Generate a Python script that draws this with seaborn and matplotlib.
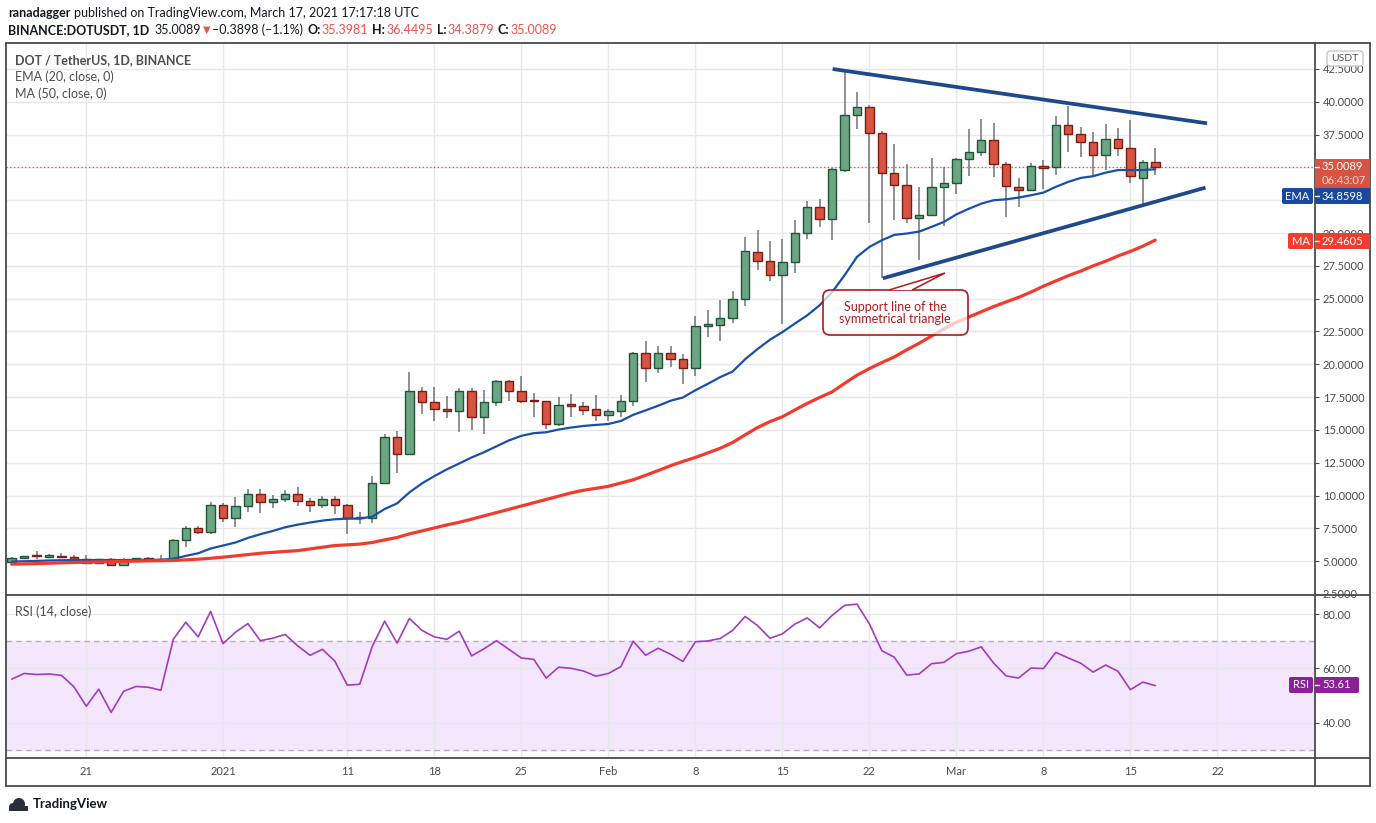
import matplotlib
matplotlib.use('Agg')
import matplotlib.pyplot as plt
from matplotlib.patches import Rectangle, FancyBboxPatch, Polygon, Circle
from matplotlib.transforms import IdentityTransform
import seaborn as sns
import pandas as pd
import numpy as np

W, H = 1376, 823

# ---- data ----
dates = pd.date_range('2020-12-15', '2021-03-17', freq='D')

opens = [4.95, 5.22, 5.40, 5.35, 5.38, 5.30, 5.15, 4.85, 5.15, 4.70, 5.08, 5.23, 5.20, 5.10, 6.60, 7.50, 7.20,
         9.25, 8.27, 9.18, 10.15, 9.50, 9.70, 10.10, 9.60, 9.25, 9.70, 9.25, 8.27, 8.27, 10.92, 14.49, 13.13,
         17.95, 17.12, 16.59, 16.41, 17.95, 15.98, 17.12, 18.71, 17.95, 17.20, 17.17, 15.45, 16.89, 16.82, 16.60,
         16.14, 16.44, 17.20, 20.83, 19.70, 20.83, 20.38, 19.70, 22.95, 23.00, 23.56, 25.00, 28.59, 27.90,
         26.83, 27.82, 30.04, 31.95, 31.10, 34.77, 38.97, 39.58, 37.60, 34.54, 33.63, 31.18, 31.41, 33.47,
         33.78, 35.61, 36.15, 37.07, 35.23, 33.54, 33.31, 35.08, 35.00, 38.22, 37.53, 36.92, 35.92, 37.15,
         36.46, 34.23, 35.3981]
highs = [5.30, 5.42, 5.78, 5.55, 5.62, 5.45, 5.48, 5.20, 5.22, 5.25, 5.25, 5.28, 5.48, 6.70, 7.70, 7.68, 9.48,
         9.40, 9.90, 10.50, 10.50, 10.03, 10.40, 10.68, 9.78, 9.93, 9.98, 9.33, 8.73, 11.47, 14.67, 14.95, 19.38,
         18.25, 18.25, 17.60, 18.23, 18.18, 18.05, 18.81, 18.81, 19.10, 17.80, 17.20, 17.50, 17.76, 17.12, 17.63,
         16.59, 17.68, 20.90, 21.74, 21.36, 21.36, 20.78, 23.66, 24.10, 24.87, 25.58, 29.73, 30.22, 29.38,
         29.55, 31.03, 32.43, 32.57, 34.95, 42.37, 40.75, 39.76, 37.80, 36.78, 35.23, 33.53, 35.69, 35.05,
         35.70, 37.94, 38.71, 38.40, 35.40, 34.17, 35.33, 35.56, 38.94, 39.65, 38.09, 37.73, 38.30, 38.00,
         38.63, 35.56, 36.4495]
lows = [4.90, 5.15, 5.18, 5.22, 5.25, 5.02, 4.80, 4.78, 4.60, 4.60, 5.00, 5.05, 4.98, 5.00, 6.10, 7.05, 7.10,
        8.02, 7.60, 8.77, 8.70, 9.05, 9.48, 9.20, 8.77, 9.03, 8.57, 7.10, 7.86, 7.94, 10.85, 11.73, 13.10,
        16.22, 15.66, 15.90, 14.82, 14.97, 14.65, 16.80, 17.20, 17.05, 15.98, 15.04, 15.27, 15.99, 16.12, 15.68,
        15.66, 15.98, 16.79, 18.67, 19.33, 19.80, 18.47, 19.14, 22.11, 21.75, 23.17, 24.45, 27.20, 26.35,
        23.09, 26.92, 29.53, 30.47, 29.45, 34.67, 37.95, 30.78, 26.60, 30.98, 30.78, 27.92, 31.36, 30.52,
        32.95, 34.33, 35.90, 34.28, 31.20, 32.00, 33.31, 33.34, 34.40, 36.20, 35.82, 34.33, 34.79, 35.90,
        33.82, 32.24, 34.3879]
closes = [5.22, 5.38, 5.37, 5.38, 5.32, 5.13, 4.85, 5.15, 4.70, 5.08, 5.23, 5.15, 5.10, 6.60, 7.50, 7.20, 9.25,
          8.27, 9.18, 10.10, 9.50, 9.70, 10.10, 9.60, 9.25, 9.70, 9.25, 8.27, 8.30, 10.92, 14.49, 13.13, 17.99,
          17.10, 16.59, 16.41, 17.95, 15.98, 17.12, 18.71, 17.95, 17.20, 17.17, 15.45, 16.89, 16.85, 16.52, 16.14,
          16.44, 17.20, 20.83, 19.70, 20.83, 20.38, 19.70, 22.95, 23.00, 23.56, 25.00, 28.64, 27.90, 26.83,
          27.77, 30.04, 31.95, 31.10, 34.85, 38.97, 39.58, 37.60, 34.54, 33.63, 31.18, 31.41, 33.47, 33.78,
          35.61, 36.15, 37.07, 35.23, 33.62, 33.31, 35.08, 34.92, 38.22, 37.53, 36.92, 35.92, 37.15, 36.46,
          34.31, 35.38, 35.0089]
ema20 = [4.97, 4.99, 5.02, 5.05, 5.07, 5.08, 5.08, 5.09, 5.08, 5.08, 5.10, 5.10, 5.10, 5.18, 5.40, 5.60, 5.96,
         6.19, 6.42, 6.77, 7.05, 7.30, 7.58, 7.78, 7.94, 8.09, 8.19, 8.24, 8.24, 8.39, 8.97, 9.40, 10.24,
         10.92, 11.48, 11.99, 12.44, 12.90, 13.30, 13.75, 14.20, 14.55, 14.75, 14.82, 15.03, 15.18, 15.30, 15.38,
         15.45, 15.68, 16.15, 16.49, 16.84, 17.22, 17.47, 18.02, 18.51, 19.02, 19.45, 20.38, 21.16, 21.87,
         22.45, 23.10, 23.73, 24.50, 25.50, 26.78, 28.18, 28.94, 29.45, 29.86, 29.96, 30.11, 30.47, 30.85,
         31.42, 31.85, 32.24, 32.50, 32.57, 32.70, 32.88, 33.08, 33.52, 33.90, 34.20, 34.33, 34.60, 34.80,
         34.80, 34.80, 34.8598]
ma50 = [4.77, 4.79, 4.81, 4.84, 4.87, 4.90, 4.92, 4.94, 4.96, 4.98, 5.00, 5.02, 5.03, 5.05, 5.10, 5.15, 5.22,
        5.30, 5.40, 5.50, 5.60, 5.67, 5.74, 5.80, 5.93, 6.06, 6.19, 6.24, 6.30, 6.42, 6.62, 6.80, 7.08,
        7.30, 7.53, 7.76, 7.96, 8.20, 8.45, 8.70, 8.95, 9.20, 9.45, 9.70, 9.95, 10.20, 10.40, 10.55,
        10.70, 10.95, 11.20, 11.54, 11.90, 12.27, 12.60, 12.90, 13.25, 13.60, 14.04, 14.62, 15.18, 15.63,
        16.00, 16.52, 17.02, 17.47, 17.90, 18.54, 19.17, 19.67, 20.13, 20.56, 21.10, 21.60, 22.15, 22.70,
        23.20, 23.60, 24.00, 24.40, 24.75, 25.10, 25.50, 25.95, 26.35, 26.75, 27.10, 27.50, 27.85, 28.25,
        28.60, 29.00, 29.4605]
rsi = [56.0, 58.1, 57.7, 57.9, 57.4, 53.2, 46.0, 52.3, 43.7, 51.5, 53.3, 53.0, 51.9, 70.7, 77.0, 71.6, 81.0,
       69.1, 73.3, 76.5, 70.2, 71.1, 72.5, 68.3, 64.8, 67.0, 62.6, 53.8, 54.1, 68.0, 77.4, 69.3, 78.4,
       74.0, 71.6, 70.7, 73.7, 64.6, 67.2, 70.2, 67.0, 63.8, 63.3, 56.4, 60.4, 60.0, 59.0, 57.1,
       58.1, 60.6, 70.0, 64.8, 67.4, 65.2, 62.5, 69.8, 70.1, 71.0, 74.0, 79.1, 75.8, 71.1,
       72.7, 76.3, 78.6, 74.9, 79.5, 83.2, 83.7, 76.4, 66.5, 64.1, 57.5, 57.9, 61.7, 62.2,
       65.4, 66.3, 67.9, 61.9, 57.2, 56.4, 60.1, 59.9, 65.9, 63.8, 61.9, 58.6, 61.2, 58.9,
       52.1, 54.9, 53.61]

upper_dates = pd.to_datetime(['2021-02-19 01:00', '2021-03-21 04:00'])
upper_prices = [42.5, 38.36]
lower_dates = pd.to_datetime(['2021-02-23 02:00', '2021-03-21 01:00'])
lower_prices = [26.55, 33.46]

tick_dates = pd.to_datetime(['2020-12-21', '2021-01-01', '2021-01-11', '2021-01-18', '2021-01-25',
                             '2021-02-01', '2021-02-08', '2021-02-15', '2021-02-22', '2021-03-01',
                             '2021-03-08', '2021-03-15', '2021-03-22'])
tick_labels = ['21', '2021', '11', '18', '25', 'Feb', '8', '15', '22', 'Mar', '8', '15', '22']
price_ticks = [2.5, 5.0, 7.5, 10.0, 12.5, 15.0, 17.5, 20.0, 22.5, 25.0, 27.5, 30.0, 32.5, 35.0,
               37.5, 40.0, 42.5]
hidden_price_labels = [32.5, 35.0]   # covered by the last-value tags
rsi_ticks = [40, 60, 80]

last_price = 35.0089
last_ema = 34.8598
last_ma = 29.4605
last_rsi = 53.61

df = pd.DataFrame({'date': dates, 'open': opens, 'high': highs, 'low': lows, 'close': closes,
                   'ema': ema20, 'ma': ma50, 'rsi': rsi})

sns.set_style('white')
plt.rcParams['font.family'] = ['Lato', 'DejaVu Sans']

fig = plt.figure(figsize=(W / 100, H / 100), dpi=100)
renderer = fig.canvas.get_renderer()


def fx(x):
    return x / W


def fy(y):
    return 1 - y / H


AXC = '#4a4a4a'
GRID = '#e8e8e8'

ax = fig.add_axes([fx(6), fy(595), fx(1315) - fx(6), fy(43) - fy(595)])
rax = fig.add_axes([fx(6), fy(758), fx(1315) - fx(6), fy(595) - fy(758)], sharex=ax)

# candles
up = df['close'] >= df['open']
ax.vlines(df['date'], df['low'], df['high'], color='#737375', lw=1.1, zorder=3)
bottom = df[['open', 'close']].min(axis=1)
height = (df['close'] - df['open']).abs().clip(lower=0.09)
ax.bar(df['date'][up], height[up], bottom=bottom[up], width=0.68, color='#6ba583',
       edgecolor='#225437', lw=1.0, zorder=4)
ax.bar(df['date'][~up], height[~up], bottom=bottom[~up], width=0.68, color='#d75442',
       edgecolor='#7a1d14', lw=1.0, zorder=4)

sns.lineplot(data=df, x='date', y='ema', ax=ax, color='#1a4fa8', lw=1.6, zorder=5)
sns.lineplot(data=df, x='date', y='ma', ax=ax, color='#f23b2f', lw=2.3, zorder=5)

ax.plot(upper_dates, upper_prices, color='#1f4a8a', lw=2.7, solid_capstyle='butt', zorder=6)
ax.plot(lower_dates, lower_prices, color='#1f4a8a', lw=2.7, solid_capstyle='butt', zorder=6)
ax.axhline(last_price, color='#d75442', lw=0.9, ls=(0, (1, 2)), zorder=2)

base = pd.Timestamp('2020-12-21')
ax.set_ylim(2.42, 44.48)
ax.set_yticks(price_ticks)
ax.set_yticklabels(['' if v in hidden_price_labels else f'{v:.4f}' for v in price_ticks])
ax.yaxis.tick_right()
ax.tick_params(axis='y', length=3, color=AXC, labelsize=8, labelcolor=AXC, pad=2.5)
ax.set_xticks(tick_dates)
ax.tick_params(axis='x', length=0, labelbottom=False)
ax.grid(True, color=GRID, lw=1, zorder=0)
ax.set_xlabel('')
ax.set_ylabel('')
for s in ax.spines.values():
    s.set_visible(False)

# RSI pane
rax.axhspan(30, 70, color='#f3e6fd', zorder=0)
for lvl in (30, 70):
    rax.axhline(lvl, color='#b5adb7', lw=1, ls=(0, (4, 3)), zorder=1)
sns.lineplot(data=df, x='date', y='rsi', ax=rax, color='#a23cbf', lw=1.2, zorder=4)
rax.set_ylim(26.9, 87.05)
rax.set_yticks(rsi_ticks)
rax.set_yticklabels([f'{v:.2f}' for v in rsi_ticks])
rax.yaxis.tick_right()
rax.tick_params(axis='y', length=3, color=AXC, labelsize=8, labelcolor=AXC, pad=2.5)
rax.set_xticks(tick_dates)
rax.set_xticklabels(tick_labels)
rax.tick_params(axis='x', length=3, color=AXC, labelsize=8, labelcolor=AXC, pad=3)
rax.grid(True, color=GRID, lw=1, zorder=0)
rax.set_axisbelow(True)
rax.set_xlabel('')
rax.set_ylabel('')
for s in rax.spines.values():
    s.set_visible(False)
ax.set_xlim(base - pd.Timedelta(days=6.46), base + pd.Timedelta(days=98.85))

# frame lines
px = IdentityTransform()


def hline(y, x0, x1):
    fig.add_artist(plt.Line2D([x0, x1], [H - y, H - y], transform=px, color=AXC, lw=1.3))


def vline(x, y0, y1):
    fig.add_artist(plt.Line2D([x, x], [H - y0, H - y1], transform=px, color=AXC, lw=1.3))


hline(43, 6, 1370)
hline(595, 6, 1370)
hline(758, 6, 1370)
hline(786, 6, 1370)
vline(6, 43, 786)
vline(1315, 43, 786)
vline(1370, 43, 786)

# annotation callout
box = FancyBboxPatch((823, H - 335), 145, 45, boxstyle='round,pad=0,rounding_size=7',
                     transform=px, fc=(1, 1, 1, 0.72), ec='#b0191e', lw=1.2, zorder=7)
fig.add_artist(box)
wedge = Polygon([(889, H - 290), (945, H - 273), (912, H - 290)], closed=False,
                transform=px, fc='white', ec='#b0191e', lw=1.1, zorder=8)
fig.add_artist(wedge)
fig.text(fx(895), fy(313), 'Support line of the\nsymmetrical triangle', color='#b0191e',
         fontsize=9, ha='center', va='center', linespacing=1.05, zorder=9)


# right axis price boxes
def tag(x0, x1, y0, y1, color, text, tcolor='white', size=8, ha='center', tx=None, rounded=2):
    p = FancyBboxPatch((x0, H - y1), x1 - x0, y1 - y0,
                       boxstyle=f'round,pad=0,rounding_size={rounded}', transform=px,
                       fc=color, ec=color, lw=0, zorder=10)
    fig.add_artist(p)
    if text:
        xx = tx if tx is not None else (x0 + x1) / 2
        fig.text(fx(xx), fy((y0 + y1) / 2), text, color=tcolor, fontsize=size,
                 ha=ha, va='center', zorder=11)


tag(1315, 1370, 159, 189, '#d75442', None)
fig.text(fx(1322), fy(167), f'{last_price:.4f}', color='white', fontsize=8, va='center', zorder=11)
fig.text(fx(1322), fy(181), '06:43:07', color='#f6d6d1', fontsize=8, va='center', zorder=11)
tag(1315, 1370, 188, 204, '#1848a0', f'{last_ema:.4f}', ha='left', tx=1322)
tag(1282, 1313, 188, 204, '#1848a0', 'EMA')
tag(1315, 1370, 233, 249, '#f23d2e', f'{last_ma:.4f}', ha='left', tx=1322)
tag(1288, 1313, 233, 249, '#f23d2e', 'MA')
tag(1315, 1359, 677, 693, '#8e1f9a', f'{last_rsi:.2f}', ha='left', tx=1322)
tag(1289, 1313, 677, 693, '#8e1f9a', 'RSI')
for yy in (167, 196, 241, 685):
    fig.add_artist(plt.Line2D([1315, 1319], [H - yy, H - yy], transform=px, color='white', lw=1, zorder=12))

usdt = FancyBboxPatch((1327, H - 66), 36, 15, boxstyle='round,pad=0,rounding_size=3',
                      transform=px, fc='white', ec='#c8c8c8', lw=1, zorder=10)
fig.add_artist(usdt)
fig.text(fx(1345), fy(58.5), 'USDT', color='#555555', fontsize=7.5, ha='center', va='center', zorder=11)

# legends inside panes
fig.text(fx(15), fy(60), 'DOT / TetherUS, 1D, BINANCE', color='#4d4d4d', fontsize=9,
         fontweight='bold', va='center')
fig.text(fx(15), fy(77), 'EMA (20, close, 0)', color='#4d4d4d', fontsize=9, va='center')
fig.text(fx(15), fy(94), 'MA (50, close, 0)', color='#4d4d4d', fontsize=9, va='center')
fig.text(fx(15), fy(612), 'RSI (14, close)', color='#4d4d4d', fontsize=9, va='center')


# header: runs of text placed one after another
def run_text(x, y, pieces):
    for txt, col, wt, fs, gap in pieces:
        t = fig.text(fx(x), fy(y), txt, color=col, fontsize=fs, fontweight=wt, va='center')
        x += t.get_window_extent(renderer=renderer).width + gap


DARK = '#131722'
RED = '#ef5350'
run_text(8, 13, [
    ('ranadagger', DARK, 'bold', 9, 3),
    ('published on TradingView.com, March 17, 2021 17:17:18 UTC', DARK, 'normal', 9, 0),
])
run_text(8, 30, [
    ('BINANCE:DOTUSDT, 1D', DARK, 'bold', 9, 5),
    ('35.0089', DARK, 'normal', 9, 2),
    ('▼', RED, 'normal', 7, 2),
    ('\u22120.3898 (\u22121.1%)', DARK, 'normal', 9, 4),
    ('O:', DARK, 'bold', 9, 1),
    ('35.3981', RED, 'normal', 9, 4),
    ('H:', DARK, 'bold', 9, 1),
    ('36.4495', RED, 'normal', 9, 4),
    ('L:', DARK, 'bold', 9, 1),
    ('34.3879', RED, 'normal', 9, 4),
    ('C:', DARK, 'bold', 9, 1),
    ('35.0089', RED, 'normal', 9, 0),
])

# footer logo
fig.add_artist(Circle((19, H - 804), 6, transform=px, fc='#2a2e39', ec='none'))
fig.add_artist(Circle((13, H - 807), 4, transform=px, fc='#2a2e39', ec='none'))
fig.add_artist(Rectangle((9, H - 811), 19, 5, transform=px, fc='#2a2e39', ec='none'))
fig.text(fx(33), fy(804), 'TradingView', color=DARK, fontsize=9.5, fontweight='bold', va='center')

fig.savefig('out.png', dpi=100)
